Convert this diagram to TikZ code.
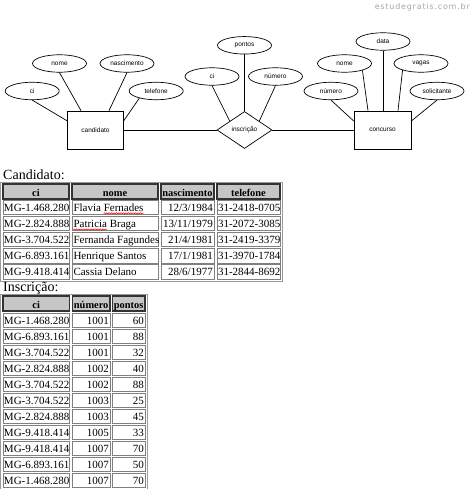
\documentclass[tikz,border=0pt]{standalone}
\usepackage{fontspec}
\setmainfont{Liberation Serif}
\newfontfamily\ersans{Liberation Sans}
\newfontfamily\wmfont[LetterSpace=10]{DejaVu Sans}
\usetikzlibrary{shapes.geometric,decorations.pathmorphing,calc}

\newcommand{\candrow}[5]{%
  \pgfmathsetmacro{\rowtop}{200+16.2*(#1-1)}%
  \draw[datcell] (3,\rowtop) rectangle (69,\rowtop+14.5);
  \draw[datcell] (72,\rowtop) rectangle (158,\rowtop+14.5);
  \draw[datcell] (161,\rowtop) rectangle (214,\rowtop+14.5);
  \draw[datcell] (217,\rowtop) rectangle (280,\rowtop+14.5);
  \node[ttext,anchor=base west] (cci#1) at (3.8,\rowtop+11) {#2};
  \node[ttext,anchor=base west] (cnm#1) at (73.3,\rowtop+11) {#3};
  \node[ttext,anchor=base east] (cdt#1) at (213,\rowtop+11) {#4};
  \node[ttext,anchor=base west] (ctl#1) at (217.8,\rowtop+11) {#5};
}
\newcommand{\insrow}[4]{%
  \pgfmathsetmacro{\rowtop}{313+16*(#1-1)}%
  \draw[datcell] (3,\rowtop) rectangle (69.5,\rowtop+14.5);
  \draw[datcell] (72.5,\rowtop) rectangle (110,\rowtop+14.5);
  \draw[datcell] (112.5,\rowtop) rectangle (145,\rowtop+14.5);
  \node[ttext,anchor=base west] (ici#1) at (3.8,\rowtop+11) {#2};
  \node[ttext,anchor=base east] (inu#1) at (109,\rowtop+11) {#3};
  \node[ttext,anchor=base east] (ipt#1) at (144,\rowtop+11) {#4};
}

\begin{document}
\begin{tikzpicture}[x=1pt,y=-1pt,
  erfont/.style={font=\ersans\fontsize{6.5}{7.5}\selectfont},
  attr/.style={ellipse,draw,line width=0.7pt,minimum width=54pt,minimum height=17.5pt,inner sep=0pt,erfont},
  entity/.style={rectangle,draw,line width=0.7pt,minimum width=55.5pt,minimum height=38pt,inner sep=0pt,erfont},
  relbox/.style={diamond,draw,line width=0.7pt,aspect=1.486,minimum width=55pt,minimum height=37pt,inner sep=0pt,erfont},
  erline/.style={line width=0.7pt},
  hdrcell/.style={fill=gray!45,draw=black!80,line width=1.1pt},
  datcell/.style={draw=gray,line width=0.9pt},
  outer/.style={draw=gray!80,line width=0.8pt},
  ttext/.style={inner sep=0pt,font=\fontsize{11}{13}\selectfont},
  htext/.style={inner sep=0pt,anchor=base,font=\bfseries\fontsize{10.4}{12}\selectfont},
  title/.style={inner sep=0pt,font=\fontsize{14}{16}\selectfont,anchor=base west},
  spell/.style={red,line width=0.5pt,decorate,decoration={snake,amplitude=0.6pt,segment length=2.4pt}}
]
\useasboundingbox (0,0) rectangle (471,489);

% watermark
\node[font=\wmfont\fontsize{8}{9}\selectfont,text=gray!70,anchor=east,inner sep=0pt] (wm) at (470,7) {estudegratis.com.br};

% ER diagram
\node[attr] (ci1) at (32.2,91) {ci};
\node[attr] (nome1) at (59.5,63.5) {nome};
\node[attr] (nasc) at (127,63.5) {nascimento};
\node[attr] (tel) at (156.2,91) {telefone};
\node[entity] (cand) at (95.5,130) {candidato};
\node[attr] (ci2) at (212,76.5) {ci};
\node[attr] (pontos) at (244.5,45.3) {pontos};
\node[attr] (num2) at (275.5,76.5) {número};
\node[relbox] (insc) at (244.5,130) {inscrição};
\node[attr] (data) at (383,41.5) {data};
\node[attr] (nome3) at (344.5,63.5) {nome};
\node[attr] (vagas) at (421,63.5) {vagas};
\node[attr] (num3) at (331,91) {número};
\node[attr] (solic) at (437,91) {solicitante};
\node[entity,minimum width=57pt] (conc) at (382.5,130) {concurso};

\draw[erline] (ci1.south) -- ([yshift=9pt]cand.west);
\draw[erline] (nome1.south) -- ([xshift=-14.5pt]cand.north);
\draw[erline] (nasc.south) -- ([xshift=13.5pt]cand.north);
\draw[erline] (tel.203) -- ([yshift=9pt]cand.east);
\draw[erline] (cand.east) -- (insc.west);
\draw[erline] (ci2.south) -- (insc.149);
\draw[erline] (pontos.south) -- (insc.north);
\draw[erline] (num2.south) -- (insc.31);
\draw[erline] (insc.east) -- (conc.west);
\draw[erline] (data.south) -- (data.south |- conc.north);
\draw[erline] (nome3.-21) -- ([xshift=-14.5pt]conc.north);
\draw[erline] (vagas.200) -- ([xshift=15.5pt]conc.north);
\draw[erline] (num3.south) -- ([yshift=9pt]conc.west);
\draw[erline] (solic.south) -- ([yshift=9pt]conc.east);

% Candidato table
\node[title] (tcand) at (3,179.5) {Candidato:};
\draw[outer] (0.5,182) rectangle (282.5,281);
\draw[hdrcell] (3,184) rectangle (69,199);
\draw[hdrcell] (72,184) rectangle (158,199);
\draw[hdrcell] (161,184) rectangle (214,199);
\draw[hdrcell] (217,184) rectangle (280,199);
\node[htext] (hc1) at (36,196) {ci};
\node[htext] (hc2) at (115,196) {nome};
\node[htext] (hc3) at (187.5,196) {nascimento};
\node[htext] (hc4) at (248.5,196) {telefone};
\candrow{1}{MG-1.468.280}{Flavia Fernades}{12/3/1984}{31-2418-0705}
\candrow{2}{MG-2.824.888}{Patricia Braga}{13/11/1979}{31-2072-3085}
\candrow{3}{MG-3.704.522}{Fernanda Fagundes}{21/4/1981}{31-2419-3379}
\candrow{4}{MG-6.893.161}{Henrique Santos}{17/1/1981}{31-3970-1784}
\candrow{5}{MG-9.418.414}{Cassia Delano}{28/6/1977}{31-2844-8692}
\draw[spell] ($(cnm1.base west)+(30.3,2.3)$) -- ($(cnm1.base west)+(70,2.3)$);
\draw[spell] ($(cnm2.base west)+(0,2.3)$) -- ($(cnm2.base west)+(33.6,2.3)$);

% Inscricao table
\node[title] (tinsc) at (3,291) {Inscrição:};
\draw[outer] (0.5,294) rectangle (147,489);
\draw[hdrcell] (3,296) rectangle (69.5,311);
\draw[hdrcell] (72.5,296) rectangle (110,311);
\draw[hdrcell] (112.5,296) rectangle (145,311);
\node[htext] (hi1) at (36.2,308) {ci};
\node[htext] (hi2) at (91.2,308) {número};
\node[htext] (hi3) at (128.7,308) {pontos};
\insrow{1}{MG-1.468.280}{1001}{60}
\insrow{2}{MG-6.893.161}{1001}{88}
\insrow{3}{MG-3.704.522}{1001}{32}
\insrow{4}{MG-2.824.888}{1002}{40}
\insrow{5}{MG-3.704.522}{1002}{88}
\insrow{6}{MG-3.704.522}{1003}{25}
\insrow{7}{MG-2.824.888}{1003}{45}
\insrow{8}{MG-9.418.414}{1005}{33}
\insrow{9}{MG-9.418.414}{1007}{70}
\insrow{10}{MG-6.893.161}{1007}{50}
\insrow{11}{MG-1.468.280}{1007}{70}
\end{tikzpicture}
\end{document}
